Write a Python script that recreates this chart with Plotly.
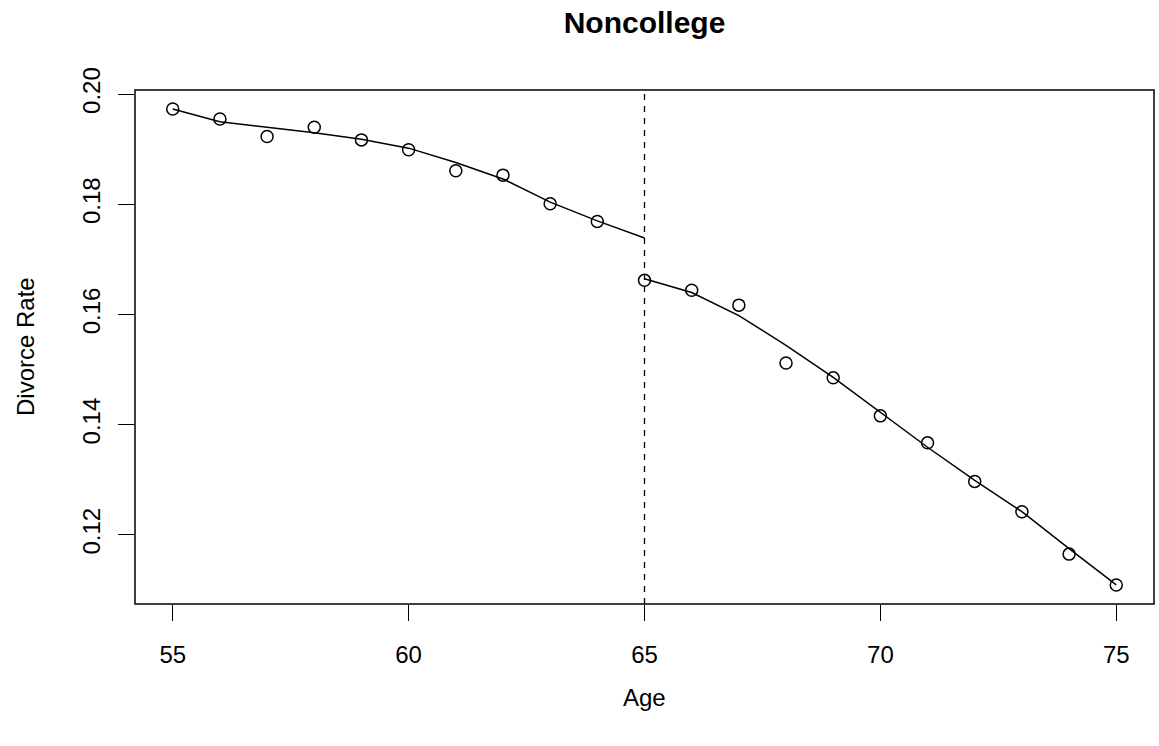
import plotly.graph_objects as go

# Observed divorce rate by age (non-college)
age = list(range(55, 76))
divorce_rate = [
    0.1973, 0.1955, 0.1923, 0.1940, 0.1917, 0.1899, 0.1861, 0.1853,
    0.1801, 0.1769, 0.1662, 0.1644, 0.1617, 0.1512, 0.1485, 0.1416,
    0.1367, 0.1297, 0.1242, 0.1165, 0.1109,
]

# Fitted curves on each side of the cutoff
cutoff = 65
fit_left_age = list(range(55, 66))
fit_left = [0.1973, 0.1950, 0.1940, 0.1930, 0.1918, 0.1902, 0.1876,
            0.1846, 0.1804, 0.1770, 0.1739]
fit_right_age = list(range(65, 76))
fit_right = [0.1665, 0.1640, 0.1598, 0.1544, 0.1486, 0.1423, 0.1359,
             0.1299, 0.1242, 0.1175, 0.1109]

x_ticks = [55, 60, 65, 70, 75]
y_ticks = [0.12, 0.14, 0.16, 0.18, 0.20]

FONT = "Liberation Sans, Arial, Helvetica, sans-serif"
BASE = 24


def padded(lo, hi, frac=0.04):
    ext = (hi - lo) * frac
    return [lo - ext, hi + ext]


x_range = padded(min(age), max(age))
y_range = padded(min(divorce_rate), max(divorce_rate))

fig = go.Figure()

fig.add_trace(go.Scatter(
    x=fit_left_age, y=fit_left, mode="lines",
    line=dict(color="black", width=1.5), hoverinfo="skip", showlegend=False,
))
fig.add_trace(go.Scatter(
    x=fit_right_age, y=fit_right, mode="lines",
    line=dict(color="black", width=1.5), hoverinfo="skip", showlegend=False,
))
fig.add_trace(go.Scatter(
    x=age, y=divorce_rate, mode="markers",
    marker=dict(symbol="circle-open", size=12, color="black",
                line=dict(color="black", width=1.5)),
    showlegend=False,
))

# Vertical dashed line at the cutoff age
fig.add_shape(type="line", xref="x", yref="paper", x0=cutoff, x1=cutoff,
              y0=0, y1=1, line=dict(color="black", width=1.3, dash="6px,6px"))

# Plot frame
fig.add_shape(type="rect", xref="paper", yref="paper", x0=0, x1=1, y0=0, y1=1,
              line=dict(color="black", width=1.5), fillcolor="rgba(0,0,0,0)")

fig.update_layout(
    width=1159, height=746,
    margin=dict(l=135, r=5, t=90, b=142),
    paper_bgcolor="white", plot_bgcolor="white",
    font=dict(family=FONT, size=BASE, color="black"),
    title=dict(text="<b>Noncollege</b>", x=(135 + 1154) / 2 / 1159,
               xanchor="center", y=1 - 22 / 746, yanchor="middle",
               font=dict(family=FONT, size=30, color="black")),
    showlegend=False,
)

fig.update_xaxes(
    range=x_range, tickvals=x_ticks, ticktext=[str(v) for v in x_ticks],
    ticks="outside", ticklen=16, tickwidth=1.3, tickcolor="black",
    showgrid=False, zeroline=False, showline=False,
    ticklabelstandoff=13,
)
fig.update_yaxes(
    range=y_range, tickvals=y_ticks, ticktext=[f"{v:.2f}" for v in y_ticks],
    ticks="outside", ticklen=16, tickwidth=1.3, tickcolor="black",
    showgrid=False, zeroline=False, showline=False,
    tickangle=-90, ticklabelstandoff=8,
)

fig.add_annotation(text="Age", xref="paper", yref="paper",
                   x=0.5, y=-(697 - 604) / (604 - 90), xanchor="center",
                   yanchor="middle", showarrow=False,
                   font=dict(family=FONT, size=BASE, color="black"))
fig.add_annotation(text="Divorce Rate", xref="paper", yref="paper",
                   x=-(135 - 25) / (1154 - 135), y=0.5, xanchor="center",
                   yanchor="middle", textangle=-90, showarrow=False,
                   font=dict(family=FONT, size=BASE, color="black"))

fig.write_html("out.html")
